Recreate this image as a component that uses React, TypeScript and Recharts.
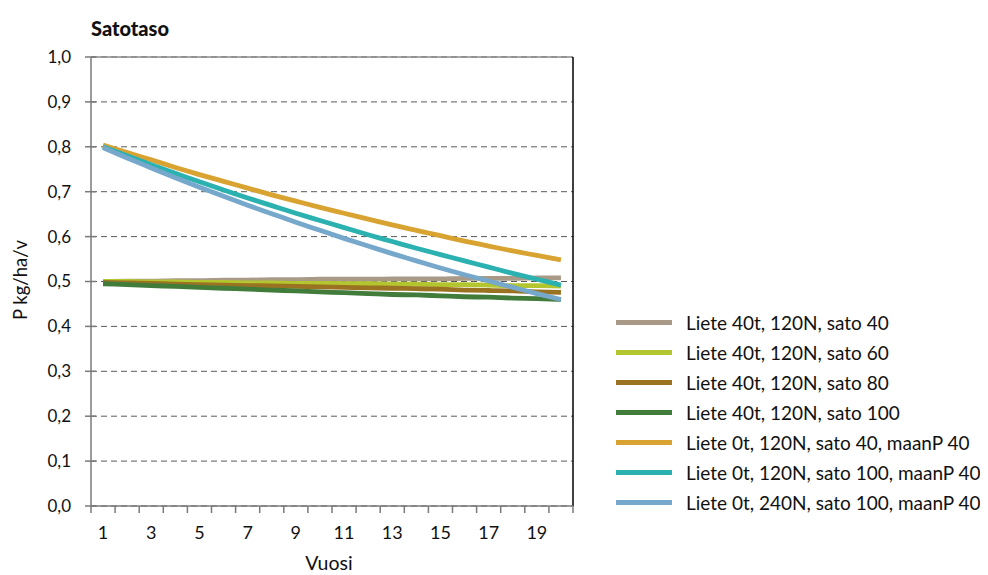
import React from 'react';
import { LineChart, Line, XAxis, YAxis, CartesianGrid, ReferenceLine, Legend } from 'recharts';

const years = [1, 2, 3, 4, 5, 6, 7, 8, 9, 10, 11, 12, 13, 14, 15, 16, 17, 18, 19, 20];
const liete40Sato40 = [0.500, 0.501, 0.501, 0.502, 0.502, 0.503, 0.503, 0.504, 0.504, 0.505, 0.505, 0.505, 0.506, 0.506, 0.506, 0.507, 0.507, 0.507, 0.508, 0.508];
const liete40Sato60 = [0.500, 0.500, 0.499, 0.499, 0.498, 0.498, 0.497, 0.497, 0.496, 0.496, 0.495, 0.495, 0.494, 0.494, 0.493, 0.493, 0.492, 0.491, 0.491, 0.490];
const liete40Sato80 = [0.498, 0.497, 0.496, 0.494, 0.493, 0.492, 0.491, 0.490, 0.489, 0.488, 0.487, 0.486, 0.485, 0.484, 0.483, 0.481, 0.480, 0.479, 0.477, 0.476];
const liete40Sato100 = [0.495, 0.493, 0.491, 0.489, 0.487, 0.485, 0.483, 0.481, 0.479, 0.477, 0.475, 0.473, 0.471, 0.470, 0.468, 0.466, 0.465, 0.463, 0.462, 0.460];
const liete0N120Sato40 = [0.804, 0.787, 0.771, 0.754, 0.738, 0.723, 0.708, 0.693, 0.679, 0.665, 0.652, 0.639, 0.626, 0.614, 0.602, 0.590, 0.579, 0.568, 0.558, 0.548];
const liete0N120Sato100 = [0.800, 0.780, 0.760, 0.741, 0.722, 0.704, 0.686, 0.669, 0.652, 0.636, 0.620, 0.604, 0.589, 0.574, 0.560, 0.546, 0.532, 0.518, 0.505, 0.492];
const liete0N240Sato100 = [0.798, 0.775, 0.753, 0.731, 0.710, 0.690, 0.670, 0.651, 0.632, 0.614, 0.596, 0.579, 0.562, 0.546, 0.530, 0.515, 0.501, 0.487, 0.473, 0.460];

const seriesNames = [
  'Liete 40t, 120N, sato 40',
  'Liete 40t, 120N, sato 60',
  'Liete 40t, 120N, sato 80',
  'Liete 40t, 120N, sato 100',
  'Liete 0t, 120N, sato 40, maanP 40',
  'Liete 0t, 120N, sato 100, maanP 40',
  'Liete 0t, 240N, sato 100, maanP 40',
];
const seriesValues = [liete40Sato40, liete40Sato60, liete40Sato80, liete40Sato100, liete0N120Sato40, liete0N120Sato100, liete0N240Sato100];
const seriesColors = ['#A89A87', '#B3C62F', '#9A7322', '#417C3B', '#D9A332', '#2AB1B0', '#76A8CC'];

const yTicks = [0, 0.1, 0.2, 0.3, 0.4, 0.5, 0.6, 0.7, 0.8, 0.9, 1.0];
const xLabelTicks = [1, 3, 5, 7, 9, 11, 13, 15, 17, 19];
const xBoundaryTicks = [0.5, 1.5, 2.5, 3.5, 4.5, 5.5, 6.5, 7.5, 8.5, 9.5, 10.5, 11.5, 12.5, 13.5, 14.5, 15.5, 16.5, 17.5, 18.5, 19.5, 20.5];

const title = 'Satotaso';
const yLabel = 'P kg/ha/v';
const xLabel = 'Vuosi';

const FONT = 'Lato, "Open Sans", sans-serif';

const data = years.map((y, i) => {
  const row: Record<string, number> = { year: y };
  seriesValues.forEach((s, k) => {
    row['s' + k] = s[i];
  });
  return row;
});

const allXTicks = [...xBoundaryTicks, ...xLabelTicks].sort((a, b) => a - b);

const XTick = (props: any) => {
  const { x, y, payload } = props;
  const v = payload.value;
  if (!Number.isInteger(v)) {
    return <line x1={x} x2={x} y1={y} y2={y + 7} stroke="#7a7a7a" strokeWidth={1.5} />;
  }
  return (
    <text x={x} y={y + 33} textAnchor="middle" fontFamily={FONT} fontSize={18} fill="#111">
      {v}
    </text>
  );
};

const YTick = (props: any) => {
  const { x, y, payload } = props;
  return (
    <g>
      <line x1={x - 6} x2={x + 5} y1={y} y2={y} stroke="#7a7a7a" strokeWidth={1.5} />
      <text x={x - 20} y={y} dy="0.35em" textAnchor="end" fontFamily={FONT} fontSize={17} fill="#111">
        {payload.value.toFixed(1).replace('.', ',')}
      </text>
    </g>
  );
};

const LegendContent = () => (
  <div style={{ fontFamily: FONT, fontSize: 19, color: '#111' }}>
    {seriesNames.map((n, i) => (
      <div key={n} style={{ display: 'flex', alignItems: 'center', height: 30 }}>
        <div style={{ width: 56, height: 5, background: seriesColors[i] }} />
        <div style={{ marginLeft: 14, whiteSpace: 'nowrap' }}>{n}</div>
      </div>
    ))}
  </div>
);

export default function App() {
  return (
    <div style={{ position: 'relative', width: 988, height: 567 }}>
      <div style={{ position: 'absolute', left: 83, top: 8, fontFamily: FONT, fontWeight: 900, fontSize: 20, color: '#111' }}>
        {title}
      </div>
      <LineChart width={988} height={567} data={data} margin={{ top: 49, right: 423, left: 23, bottom: 29 }}>
        <CartesianGrid vertical={false} stroke="#5a5a5a" strokeDasharray="6 4" />
        <XAxis
          dataKey="year"
          type="number"
          domain={[0.5, 20.5]}
          ticks={allXTicks}
          interval={0}
          tick={<XTick />}
          tickLine={false}
          tickSize={0}
          tickMargin={0}
          height={40}
          stroke="#7a7a7a"
          strokeWidth={1.5}
          allowDataOverflow
          label={(p: any) => (
            <text x={329 - 8} y={562} textAnchor="middle" fontFamily={FONT} fontSize={19.5} fill="#111">
              {xLabel}
            </text>
          )}
        />
        <YAxis
          domain={[0, 1]}
          ticks={yTicks}
          interval={0}
          tick={<YTick />}
          tickLine={false}
          tickSize={0}
          tickMargin={0}
          width={60}
          stroke="#7a7a7a"
          strokeWidth={1.5}
          allowDataOverflow
          label={(p: any) => (
            <text
              x={13}
              y={272}
              transform="rotate(-90 13 272)"
              textAnchor="middle"
              dy="0.35em"
              fontFamily={FONT}
              fontSize={18.5}
              fill="#111"
            >
              {yLabel}
            </text>
          )}
        />
        <ReferenceLine y={1} stroke="#8a8a8a" strokeWidth={1.5} />
        <ReferenceLine x={20.5} stroke="#000" strokeWidth={1.5} />
        {seriesNames.map((n, i) => (
          <Line
            key={n}
            dataKey={'s' + i}
            name={n}
            type="monotone"
            stroke={seriesColors[i]}
            strokeWidth={4.8}
            dot={false}
            activeDot={false}
            isAnimationActive={false}
          />
        ))}
        <Legend
          layout="horizontal"
          verticalAlign="middle"
          align="center"
          content={<LegendContent />}
          wrapperStyle={{ left: 608, top: 299, width: 380 }}
        />
      </LineChart>
    </div>
  );
}
